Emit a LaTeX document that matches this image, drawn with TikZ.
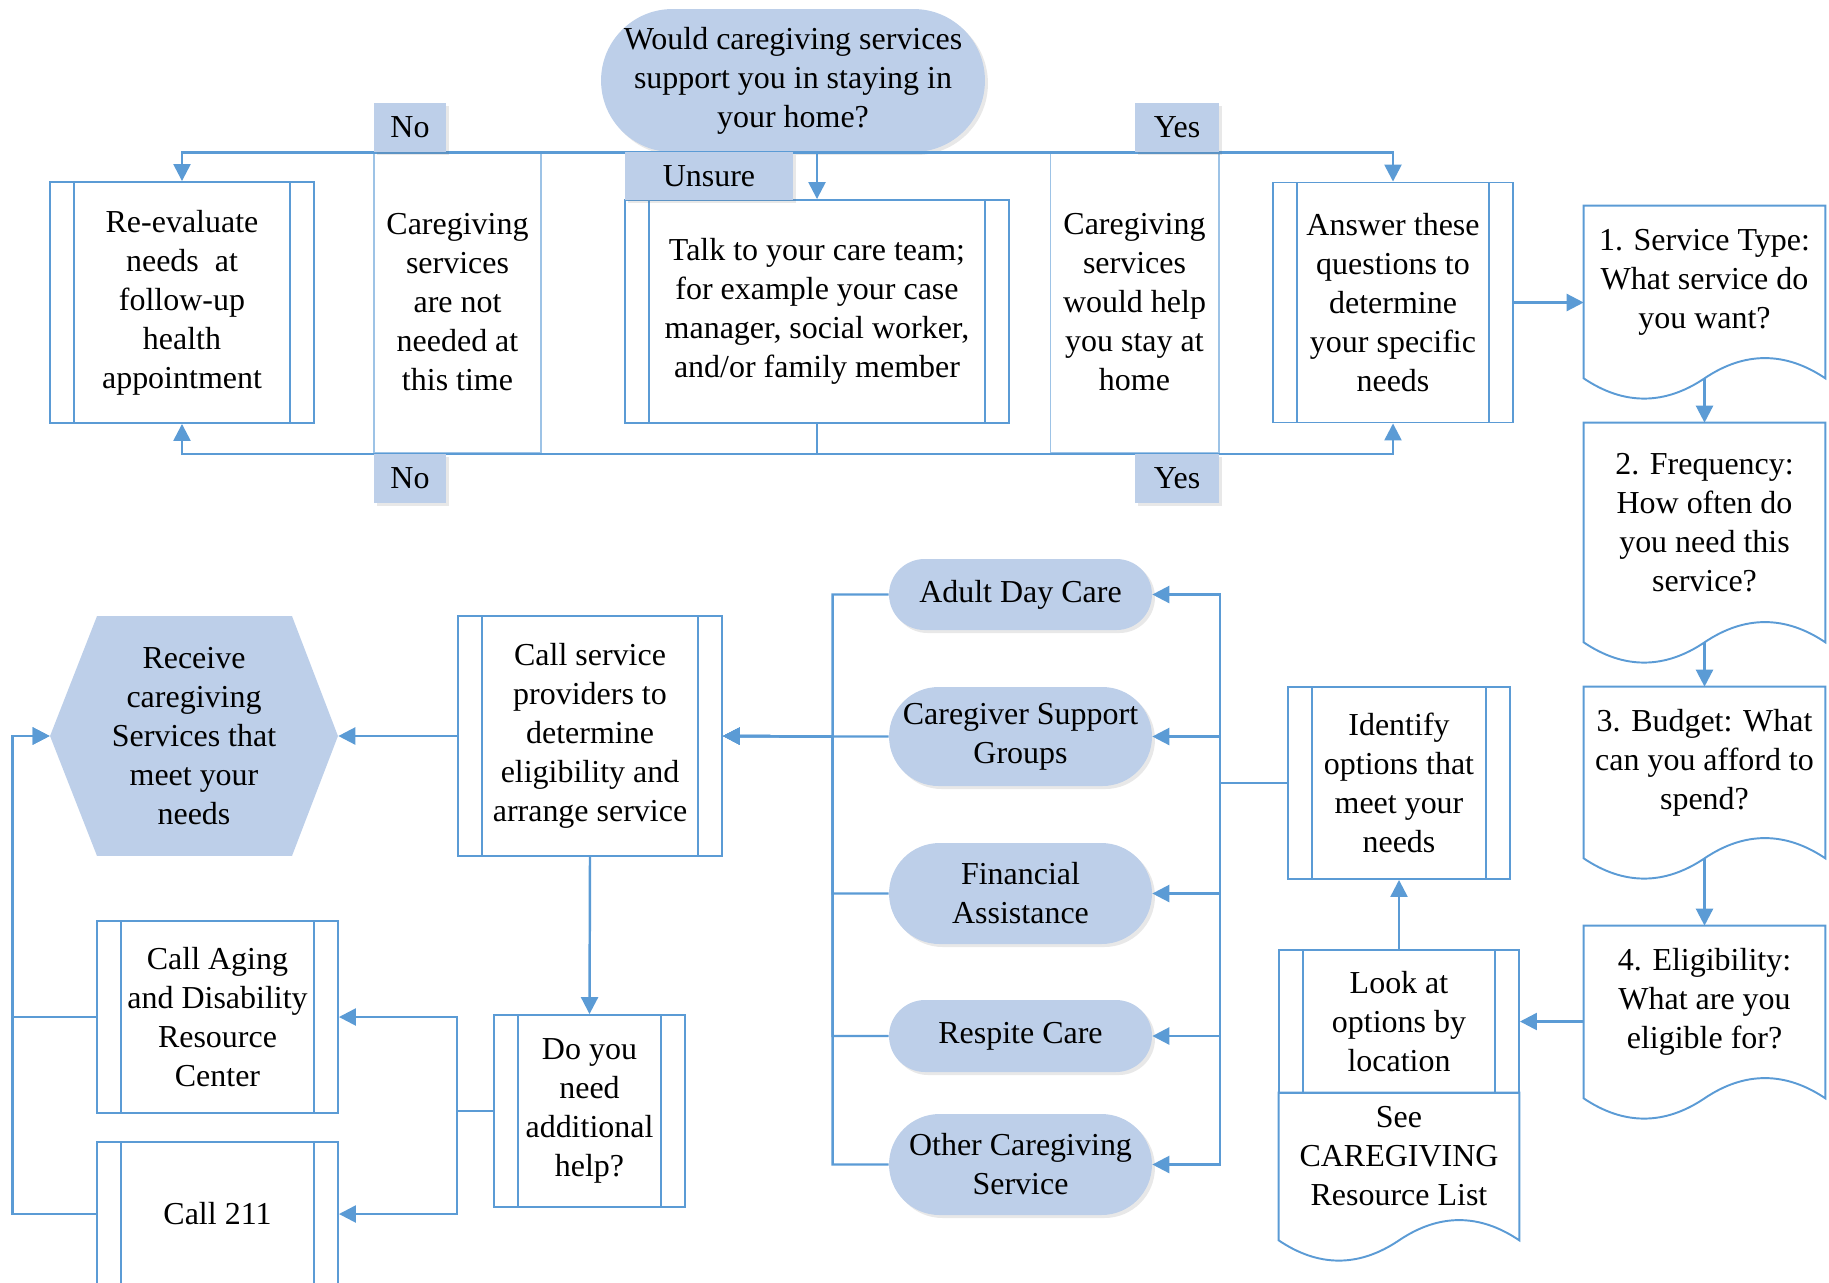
\documentclass[tikz,border=0pt]{standalone}
\usepackage{fontspec}
\setmainfont{Liberation Serif}
\usetikzlibrary{arrows.meta,shadows}

\definecolor{flowblue}{RGB}{91,155,213}
\definecolor{softblue}{RGB}{189,207,233}
\definecolor{paleblue}{RGB}{157,195,230}

% document shape with a wavy bottom, drawn round a named node
\newcommand{\docframe}[1]{%
  \draw[boxline] (#1.north west) -- (#1.north east) -- ([yshift=-0.4cm]#1.south east)
    .. controls +(-40,-27) and +(40,-27) .. ([yshift=-0.4cm]#1.south)
    .. controls +(-40,27) and +(40,27) .. ([yshift=-0.4cm]#1.south west) -- cycle;
  \coordinate (#1 tail) at ([yshift=-0.4cm]#1.south);
}

\begin{document}
\begin{tikzpicture}[x=0.02cm, y=-0.02cm,
    font=\fontsize{18.2}{22.2}\selectfont,
    flow/.style={draw=flowblue, line width=1.4pt, -{Triangle[length=0.34cm,width=0.34cm]}},
    wire/.style={draw=flowblue, line width=1.4pt},
    boxline/.style={draw=flowblue, line width=1.1pt},
    shady/.style={drop shadow={shadow xshift=0.06cm, shadow yshift=-0.06cm, opacity=0.15, fill=black!60}},
    proc/.style={boxline, fill=white, align=center, inner sep=0pt,
      path picture={\draw[flowblue, line width=1.1pt]
        ([xshift=0.48cm]path picture bounding box.north west) -- ([xshift=0.48cm]path picture bounding box.south west)
        ([xshift=-0.48cm]path picture bounding box.north east) -- ([xshift=-0.48cm]path picture bounding box.south east);}},
    pill/.style={shady, fill=softblue, rounded corners=#1, align=center, inner sep=0pt},
    tag/.style={shady, fill=softblue, inner sep=0pt},
    column/.style={draw=paleblue, line width=0.6pt, align=center, inner sep=0pt},
    docnode/.style={align=center, inner sep=0pt, minimum width=4.82cm}]

\useasboundingbox (0,0) rectangle (1829,1282);

% top row
\node[column, minimum width=3.34cm, minimum height=6.02cm] (notneed) at (457.5,302.5) {Caregiving\\services\\are not\\needed at\\this time};
\node[column, minimum width=3.38cm, minimum height=6.02cm] (wouldhelp) at (1134.5,302.5) {Caregiving\\services\\would help\\you stay at\\home};
\node[pill=1.43cm, minimum width=7.68cm, minimum height=2.86cm] (q) at (793,80.5) {Would caregiving services\\support you in staying in\\your home?};
\node[proc, minimum width=5.28cm, minimum height=4.82cm] (reeval) at (182,302.5) {Re-evaluate\\needs~~at\\follow-up\\health\\appointment};
\node[proc, minimum width=7.68cm, minimum height=4.46cm] (talk) at (817,311.5) {Talk to your care team;\\for example your case\\manager, social worker,\\and/or family member};
\node[proc, minimum width=4.8cm, minimum height=4.8cm] (answer) at (1393,302.5) {Answer these\\questions to\\determine\\your specific\\needs};

\draw[flow] (q.south) -| (reeval.north);
\draw[flow] (q.south) -| (talk.north);
\draw[flow] (q.south) -| (answer.north);
\coordinate (low) at ([yshift=-0.6cm]talk.south);
\draw[wire] (talk.south) -- (low);
\draw[flow] (low) -| (reeval.south);
\draw[flow] (low) -| (answer.south);

\node[tag, minimum width=1.44cm, minimum height=0.98cm] (no1) at (410,127.5) {No};
\node[tag, minimum width=1.44cm, minimum height=0.98cm] (no2) at (410,478.5) {No};
\node[tag, minimum width=1.68cm, minimum height=0.98cm] (yes1) at (1177,127.5) {Yes};
\node[tag, minimum width=1.68cm, minimum height=0.98cm] (yes2) at (1177,478.5) {Yes};
\node[tag, minimum width=3.36cm, minimum height=0.96cm] (unsure) at (709,176) {Unsure};

% questions on the right
\node[docnode, minimum height=3.04cm] (doc1) at (1704.5,282) {1. Service Type:\\What service do\\you want?};
\node[docnode, minimum height=3.98cm] (doc2) at (1704.5,522.5) {2. Frequency:\\How often do\\you need this\\service?};
\node[docnode, minimum height=3.02cm] (doc3) at (1704.5,762.5) {3. Budget: What\\can you afford to\\spend?};
\node[docnode, minimum height=3.04cm] (doc4) at (1704.5,1002) {4. Eligibility:\\What are you\\eligible for?};
\docframe{doc1}
\docframe{doc2}
\docframe{doc3}
\docframe{doc4}
\draw[flow] (answer.east) -- (answer.east -| doc1.west);
\draw[flow] (doc1 tail) -- (doc2.north);
\draw[flow] (doc2 tail) -- (doc3.north);
\draw[flow] (doc3 tail) -- (doc4.north);

% options
\node[proc, minimum width=4.8cm, minimum height=2.86cm] (look) at (1399,1021.5) {Look at\\options by\\location};
\node[docnode, minimum width=4.8cm, minimum height=2.54cm] (reslist) at (1399,1156.5) {See\\CAREGIVING\\Resource List};
\docframe{reslist}
\node[proc, minimum width=4.44cm, minimum height=3.84cm] (ident) at (1399,783) {Identify\\options that\\meet your\\needs};
\draw[flow] (doc4.west |- look.east) -- (look.east);
\draw[flow] (look.north) -- (ident.south);

\node[pill=0.71cm, minimum width=5.26cm, minimum height=1.42cm] (adc) at (1020.5,594.5) {Adult Day Care};
\node[pill=0.99cm, minimum width=5.26cm, minimum height=1.98cm] (csg) at (1020.5,736.5) {Caregiver Support\\Groups};
\node[pill=1.01cm, minimum width=5.26cm, minimum height=2.02cm] (fa) at (1020.5,893.5) {Financial\\Assistance};
\node[pill=0.72cm, minimum width=5.26cm, minimum height=1.44cm] (rc) at (1020.5,1036) {Respite Care};
\node[pill=1.01cm, minimum width=5.26cm, minimum height=2.02cm] (ocs) at (1020.5,1164.5) {Other Caregiving\\Service};

\coordinate (rbus) at ([xshift=-1.34cm]ident.west);
\foreach \opt in {adc,csg,fa,rc,ocs}
  \draw[flow] (ident.west) -- (rbus) |- (\opt.east);

% left part
\node[proc, minimum width=5.28cm, minimum height=4.8cm] (call) at (590,736) {Call service\\providers to\\determine\\eligibility and\\arrange service};
\node[align=center, inner sep=0pt, minimum width=5.76cm, minimum height=4.8cm,
  path picture={\fill[softblue] (path picture bounding box.west)
    -- ([xshift=0.94cm]path picture bounding box.north west) -- ([xshift=-0.92cm]path picture bounding box.north east)
    -- (path picture bounding box.east)
    -- ([xshift=-0.92cm]path picture bounding box.south east) -- ([xshift=0.94cm]path picture bounding box.south west) -- cycle;}]
  (recv) at (194,736) {Receive\\caregiving\\Services that\\meet your\\needs};
\node[proc, minimum width=3.82cm, minimum height=3.84cm] (doyou) at (589.5,1111) {Do you\\need\\additional\\help?};
\node[proc, minimum width=4.82cm, minimum height=3.84cm] (aging) at (217.5,1017) {Call Aging\\and Disability\\Resource\\Center};
\node[proc, minimum width=4.82cm, minimum height=2.88cm] (c211) at (217.5,1214) {Call 211};

\coordinate (lbus) at ([xshift=-1.12cm]csg.west);
\foreach \opt in {adc,csg,fa,rc,ocs}
  \draw[flow] (\opt.west) -| (lbus) -- (call.east);
\draw[flow] (call.west) -- (recv.east);
\draw[flow] (call.south) -- (doyou.north);

\coordinate (dbus) at ([xshift=-0.72cm]doyou.west);
\draw[flow] (doyou.west) -- (dbus) |- (aging.east);
\draw[flow] (doyou.west) -- (dbus) |- (c211.east);

\coordinate (hbus) at ([xshift=-0.74cm]recv.west);
\draw[flow] (aging.west) -| (hbus) -- (recv.west);
\draw[flow] (c211.west) -| (hbus) -- (recv.west);

\end{tikzpicture}
\end{document}
